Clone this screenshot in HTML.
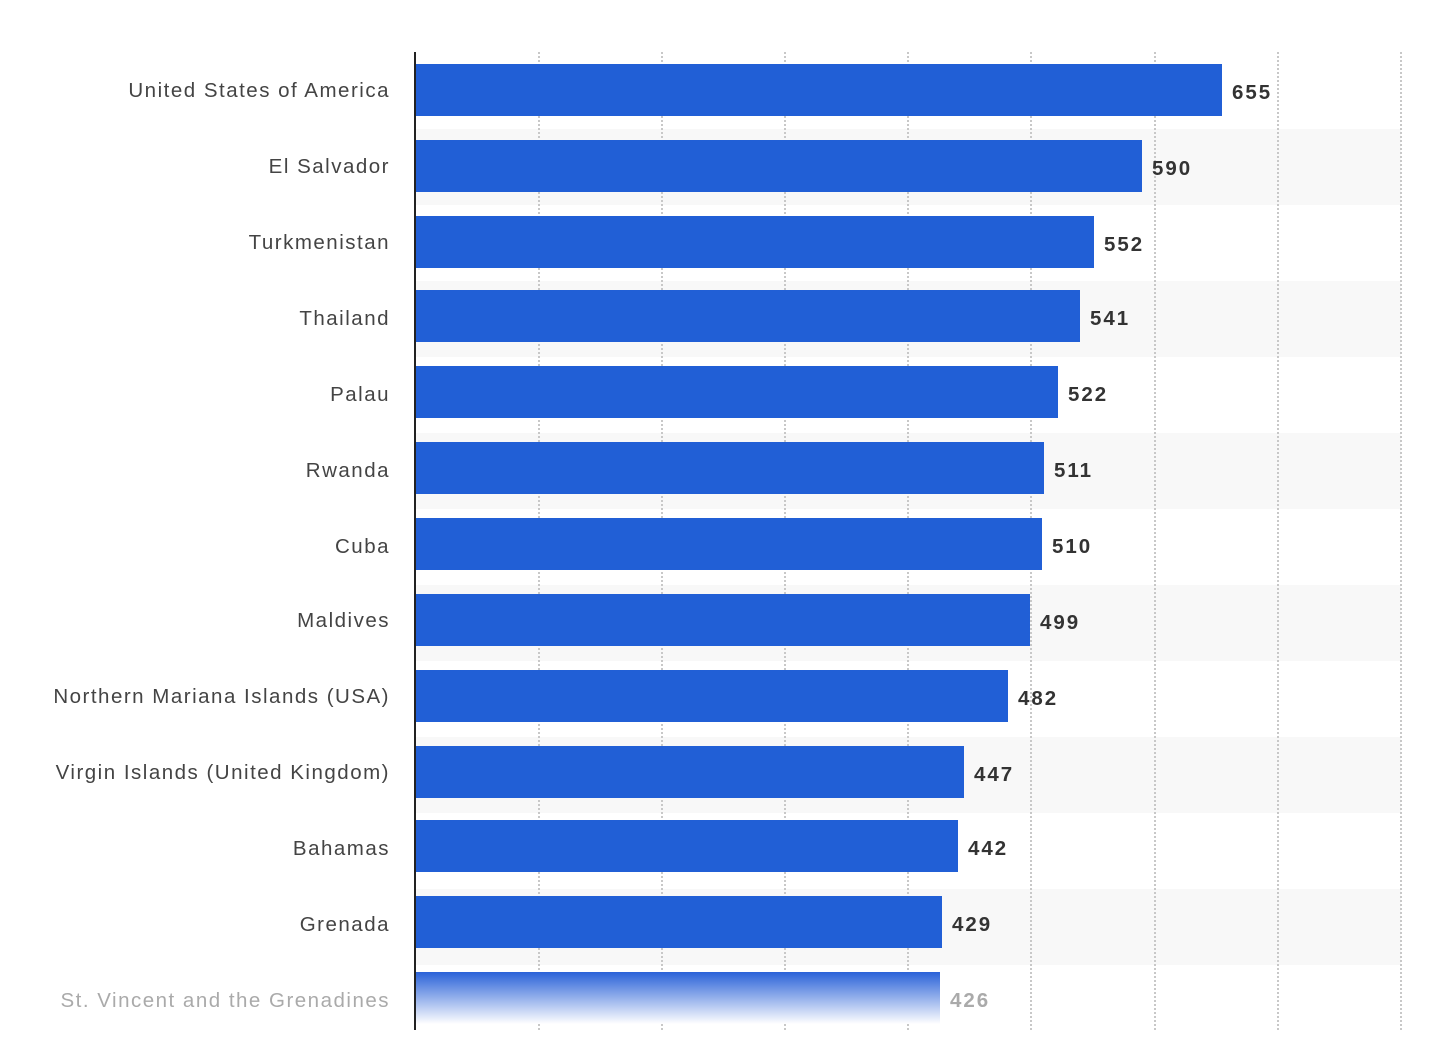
<!DOCTYPE html><html><head><style>body{margin:0;background:#fff}svg{display:block}text{font-family:"Liberation Sans",sans-serif;font-size:20.5px}</style></head><body>
<svg width="1444" height="1038" xmlns="http://www.w3.org/2000/svg">
<defs><linearGradient id="g" x1="0" y1="0" x2="0" y2="1"><stop offset="0" stop-color="#2a62d8"/><stop offset="1" stop-color="#ffffff"/></linearGradient></defs>
<g fill="#f8f8f8">
<rect x="416" y="129" width="985" height="76"/><rect x="416" y="281" width="985" height="76"/><rect x="416" y="433" width="985" height="76"/><rect x="416" y="585" width="985" height="76"/><rect x="416" y="737" width="985" height="76"/><rect x="416" y="889" width="985" height="76"/>
</g>
<g stroke="#c8c8c8" stroke-width="2" stroke-dasharray="2,2">
<line x1="539" y1="52" x2="539" y2="1030"/><line x1="662" y1="52" x2="662" y2="1030"/><line x1="785" y1="52" x2="785" y2="1030"/><line x1="908" y1="52" x2="908" y2="1030"/><line x1="1031" y1="52" x2="1031" y2="1030"/><line x1="1155" y1="52" x2="1155" y2="1030"/><line x1="1278" y1="52" x2="1278" y2="1030"/><line x1="1401" y1="52" x2="1401" y2="1030"/>
</g>
<g fill="#215fd6">
<rect x="416" y="64" width="806" height="52"/><rect x="416" y="140" width="726" height="52"/><rect x="416" y="216" width="678" height="52"/><rect x="416" y="290" width="664" height="52"/><rect x="416" y="366" width="642" height="52"/><rect x="416" y="442" width="628" height="52"/><rect x="416" y="518" width="626" height="52"/><rect x="416" y="594" width="614" height="52"/><rect x="416" y="670" width="592" height="52"/><rect x="416" y="746" width="548" height="52"/><rect x="416" y="820" width="542" height="52"/><rect x="416" y="896" width="526" height="52"/>
</g>
<rect x="416" y="972" width="524" height="52" fill="url(#g)"/>
<line x1="415" y1="52" x2="415" y2="1030" stroke="#222" stroke-width="2"/>
<g fill="#444" text-anchor="end" letter-spacing="1.5">
<text x="390" y="97">United States of America</text><text x="390" y="173">El Salvador</text><text x="390" y="249">Turkmenistan</text><text x="390" y="325">Thailand</text><text x="390" y="401">Palau</text><text x="390" y="477">Rwanda</text><text x="390" y="553">Cuba</text><text x="390" y="627">Maldives</text><text x="390" y="703">Northern Mariana Islands (USA)</text><text x="390" y="779">Virgin Islands (United Kingdom)</text><text x="390" y="855">Bahamas</text><text x="390" y="931">Grenada</text><text x="390" y="1007" fill="#aaa">St. Vincent and the Grenadines</text>
</g>
<g fill="#333" font-weight="bold" letter-spacing="2" style="font-size:21.5px">
<text x="1232" y="99">655</text><text x="1152" y="175">590</text><text x="1104" y="251">552</text><text x="1090" y="325">541</text><text x="1068" y="401">522</text><text x="1054" y="477">511</text><text x="1052" y="553">510</text><text x="1040" y="629">499</text><text x="1018" y="705">482</text><text x="974" y="781">447</text><text x="968" y="855">442</text><text x="952" y="931">429</text><text x="950" y="1007" fill="#aaa">426</text>
</g>
</svg></body></html>
